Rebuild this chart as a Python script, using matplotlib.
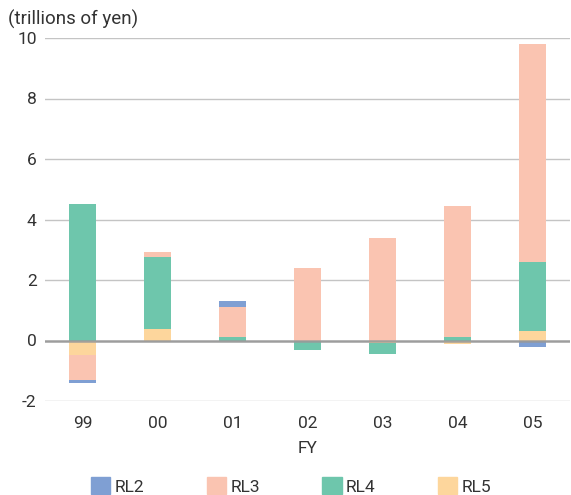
import matplotlib.pyplot as plt
import numpy as np

# Data (trillions of yen)
years = ['99', '00', '01', '02', '03', '04', '05']
series = ['RL2', 'RL3', 'RL4', 'RL5']
rl2 = [-0.09, 0.0, 0.22, 0.0, 0.0, 0.0, -0.22]
rl3 = [-0.83, 0.14, 1.0, 2.41, 3.4, 4.33, 7.2]
rl4 = [4.52, 2.38, 0.1, -0.32, -0.35, 0.1, 2.3]
rl5 = [-0.49, 0.39, 0.0, 0.0, -0.08, -0.12, 0.3]
colors = {'RL2': '#7f9fd3', 'RL3': '#fac4b1', 'RL4': '#6ec6ac', 'RL5': '#fdd69c'}

plt.rcParams['font.family'] = ['Roboto', 'DejaVu Sans']

fig = plt.figure(figsize=(5.71, 4.95), dpi=100)
ax = fig.add_axes([45 / 571, 94 / 495, 525 / 571, 363 / 495])

x = np.arange(len(years))
values = {'RL2': rl2, 'RL3': rl3, 'RL4': rl4, 'RL5': rl5}
pos_base = np.zeros(len(years))
neg_base = np.zeros(len(years))
# stack outward from zero: RL5 first, then RL4, RL3, RL2
for name in ['RL5', 'RL4', 'RL3', 'RL2']:
    v = np.array(values[name])
    base = np.where(v >= 0, pos_base, neg_base)
    ax.bar(x, v, bottom=base, width=0.36, color=colors[name], zorder=2)
    pos_base += np.clip(v, 0, None)
    neg_base += np.clip(v, None, 0)

ax.set_xlim(-0.5, 6.5)
ax.set_ylim(-2, 10)
ax.set_yticks([-2, 0, 2, 4, 6, 8, 10])
ax.set_yticklabels(['-2', '0', '2', '4', '6', '8', '10'])
ax.set_xticks(x)
ax.set_xticklabels(years)
ax.yaxis.grid(True, color='#c4c4c4', linewidth=1.0, zorder=0)
ax.set_axisbelow(True)
ax.axhline(0, color='#999999', linewidth=1.8, zorder=3, alpha=0.9)
for s in ax.spines.values():
    s.set_visible(False)
ax.tick_params(length=0, labelsize=12.5, labelcolor='#333333')
ax.tick_params(axis='y', pad=6)
ax.tick_params(axis='x', pad=11)
ax.set_xlabel('FY', fontsize=12.5, color='#333333', labelpad=7)

fig.text(8 / 571, 1 - 19 / 495, '(trillions of yen)', fontsize=13.5, color='#333333',
         va='center', ha='left')

handles = [plt.Rectangle((0, 0), 1, 1, color=colors[n]) for n in series]
fig.legend(handles, series, loc='center', bbox_to_anchor=(0.51, 1 - 486 / 495), ncol=4,
           frameon=False, fontsize=12.5, handlelength=1.1, handleheight=1.1,
           columnspacing=3.6, handletextpad=0.25, labelcolor='#333333',
           borderpad=0, borderaxespad=0)

fig.savefig('out.png', dpi=100)
